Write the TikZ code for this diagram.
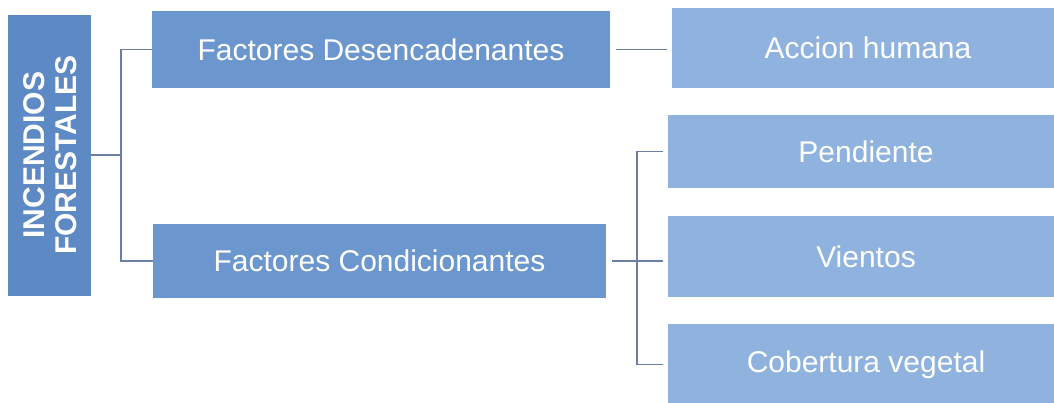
\documentclass[tikz,border=0pt]{standalone}
\usepackage{fontspec}
\setmainfont{Liberation Sans}
\definecolor{cmain}{HTML}{5D89C4}
\definecolor{cmid}{HTML}{6C97CE}
\definecolor{clight}{HTML}{8FB3DE}
\definecolor{cline}{HTML}{6A7FA6}
\tikzset{
  box/.style={draw=none, inner sep=0pt, text=white, font=\fontsize{30}{32}\selectfont},
  mainbox/.style={box, fill=cmain, font=\bfseries\fontsize{30}{31.5}\selectfont},
  midbox/.style={box, fill=cmid},
  leafbox/.style={box, fill=clight},
  conn/.style={draw=cline, line width=1.6pt}
}
\begin{document}
\begin{tikzpicture}[x=1pt,y=-1pt]
\useasboundingbox (0,0) rectangle (1054,403);
\clip (0,0) rectangle (1054,403);
\fill[white] (0,0) rectangle (1054,403);
\node[mainbox, minimum width=83pt, minimum height=281pt] (main) at (49.5,155.5) {};
\node[text=white, font=\bfseries\fontsize{30}{31.5}\selectfont, rotate=90, align=center, inner sep=0pt] (maintext) at (50,155) {INCENDIOS\\FORESTALES};
\node[midbox, minimum width=458pt, minimum height=77pt] (fd) at (381,49.5) {Factores Desencadenantes};
\node[midbox, minimum width=453pt, minimum height=74pt] (fc) at (379.5,261) {Factores Condicionantes};
\node[leafbox, minimum width=392pt, minimum height=80pt] (ah) at (868,48) {Accion humana};
\node[leafbox, minimum width=396pt, minimum height=73pt] (pe) at (866,151.5) {Pendiente};
\node[leafbox, minimum width=396pt, minimum height=81pt] (vi) at (866,256.5) {Vientos};
\node[leafbox, minimum width=396pt, minimum height=81pt] (cv) at (866,364.5) {Cobertura vegetal};
\coordinate (j1) at (121,155);
\coordinate (j2) at (637,261);
\draw[conn] (main.east |- j1) -- (j1);
\draw[conn] (fd.west) -| (j1) |- (fc.west);
\draw[conn, shorten <=6pt, shorten >=5pt] (fd.east) -- (fd.east -| ah.west);
\draw[conn, shorten <=6pt] (fc.east |- j2) -- (j2);
\draw[conn, shorten >=5pt] (j2) |- (pe.west);
\draw[conn, shorten >=5pt] (j2) |- (cv.west);
\draw[conn, shorten >=5pt] (j2) -- (j2 -| vi.west);
\end{tikzpicture}
\end{document}
